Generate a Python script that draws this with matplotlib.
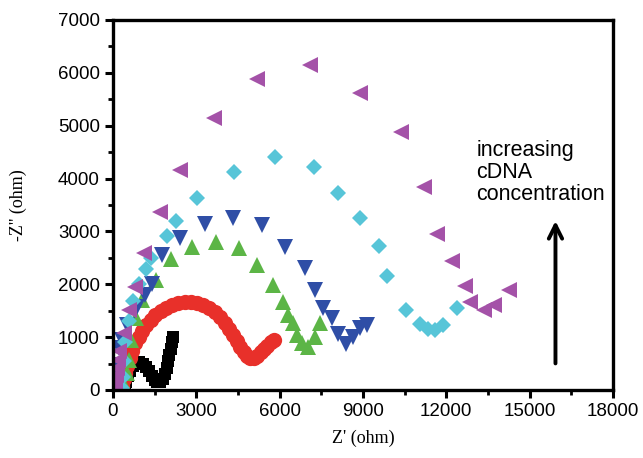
import numpy as np
import matplotlib.pyplot as plt

# Nyquist data (Z' , -Z'' in ohm)
black_x = [450, 480, 540, 620, 720, 830, 950, 1070, 1180, 1290, 1400, 1500, 1600, 1700,
           1790, 1870, 1930, 1980, 2030, 2080, 2120, 2160]
black_y = [60, 150, 260, 360, 450, 510, 530, 500, 440, 360, 270, 190, 160, 160,
           200, 300, 420, 540, 660, 780, 900, 1010]

red_x = [330, 380, 440, 520, 600, 700, 800, 920, 1050, 1200, 1360, 1530, 1720, 1920,
         2130, 2350, 2580, 2800, 3030, 3250, 3460, 3660, 3850, 4020, 4180, 4330, 4460,
         4580, 4700, 4820, 4950, 5080, 5200, 5320, 5440, 5560, 5680, 5800]
red_y = [80, 200, 330, 460, 600, 740, 880, 1000, 1120, 1230, 1320, 1410, 1490, 1560,
         1610, 1650, 1670, 1670, 1650, 1610, 1550, 1470, 1380, 1270, 1160, 1040, 920,
         810, 710, 640, 600, 610, 650, 710, 780, 840, 900, 950]

green_x = [400, 500, 570, 640, 820, 1040, 1550, 2100, 2860, 3720, 4550, 5190, 5760,
           6120, 6300, 6480, 6620, 6800, 7020, 7270, 7440]
green_y = [100, 320, 570, 950, 1360, 1700, 2080, 2480, 2710, 2800, 2690, 2370, 1990,
           1670, 1420, 1270, 1040, 890, 820, 1000, 1270]

blue_x = [100, 170, 230, 330, 500, 860, 1150, 1400, 1750, 2430, 3330, 4330, 5370,
          6190, 6910, 7270, 7550, 7870, 8100, 8400, 8650, 8900, 9160]
blue_y = [200, 470, 800, 950, 1230, 1570, 1800, 2000, 2550, 2870, 3140, 3250, 3120,
          2710, 2310, 1890, 1550, 1360, 1050, 870, 1000, 1180, 1230]

cyan_x = [330, 360, 390, 450, 560, 720, 950, 1200, 1380, 1950, 2270, 3010, 4360, 5850,
          7230, 8090, 8880, 9590, 9880, 10560, 11060, 11350, 11600, 11880, 12380]
cyan_y = [30, 250, 550, 900, 1300, 1680, 2000, 2280, 2500, 2920, 3200, 3640, 4120, 4410,
          4220, 3730, 3250, 2720, 2160, 1510, 1250, 1150, 1130, 1230, 1550]

purple_x = [60, 80, 100, 130, 170, 220, 390, 570, 780, 1110, 1690, 2400, 3620, 5190,
            7090, 8880, 10380, 11200, 11670, 12200, 12670, 12850, 13350, 13710, 14240]
purple_y = [50, 150, 280, 420, 570, 730, 1080, 1510, 1940, 2590, 3360, 4170, 5150, 5880,
            6150, 5620, 4880, 3840, 2950, 2440, 1970, 1660, 1510, 1610, 1890]

x_ticks = [0, 3000, 6000, 9000, 12000, 15000, 18000]
y_ticks = [0, 1000, 2000, 3000, 4000, 5000, 6000, 7000]

fig = plt.figure(figsize=(6.43, 4.58), dpi=100)
ax = fig.add_axes([0.1757, 0.1485, 0.7776, 0.8079])

ax.plot(black_x, black_y, ls='none', marker='s', ms=8.5, color='black', mew=0)
ax.plot(red_x, red_y, ls='none', marker='o', ms=11, color='#e8302a', mew=0)
ax.plot(green_x, green_y, ls='none', marker='^', ms=11, color='#5cb546', mew=0)
ax.plot(blue_x, blue_y, ls='none', marker='v', ms=11, color='#2f4ea6', mew=0)
ax.plot(cyan_x, cyan_y, ls='none', marker='D', ms=8.5, color='#57c5d8', mew=0)
ax.plot(purple_x, purple_y, ls='none', marker='<', ms=11, color='#a452a8', mew=0)

ax.set_xlim(0, 18000)
ax.set_ylim(0, 7000)
ax.set_xticks(x_ticks)
ax.set_yticks(y_ticks)
ax.set_xticks(np.arange(1500, 18000, 3000), minor=True)
ax.set_yticks(np.arange(500, 7000, 1000), minor=True)
ax.tick_params(which='major', direction='out', length=6, width=2.2,
               labelsize=13.5, top=False, right=False)
ax.tick_params(which='minor', direction='out', length=3.5, width=2,
               top=False, right=False)
for lab in ax.get_xticklabels() + ax.get_yticklabels():
    lab.set_family('Liberation Sans')
for sp in ax.spines.values():
    sp.set_linewidth(2.4)

ax.set_xlabel("Z' (ohm)", family='Liberation Serif', fontsize=13, labelpad=7)
ax.set_ylabel("-Z'' (ohm)", family='Liberation Serif', fontsize=13, labelpad=22)

# annotation arrow and text
ax.annotate('', xy=(15930, 3250), xytext=(15930, 450),
            arrowprops=dict(arrowstyle='->', lw=2.8, color='black',
                            mutation_scale=24))
ax.text(13080, 4720, 'increasing\ncDNA\nconcentration', family='Liberation Sans',
        fontsize=15.5, ha='left', va='top', linespacing=1.05)

fig.savefig('out.png', dpi=100)
